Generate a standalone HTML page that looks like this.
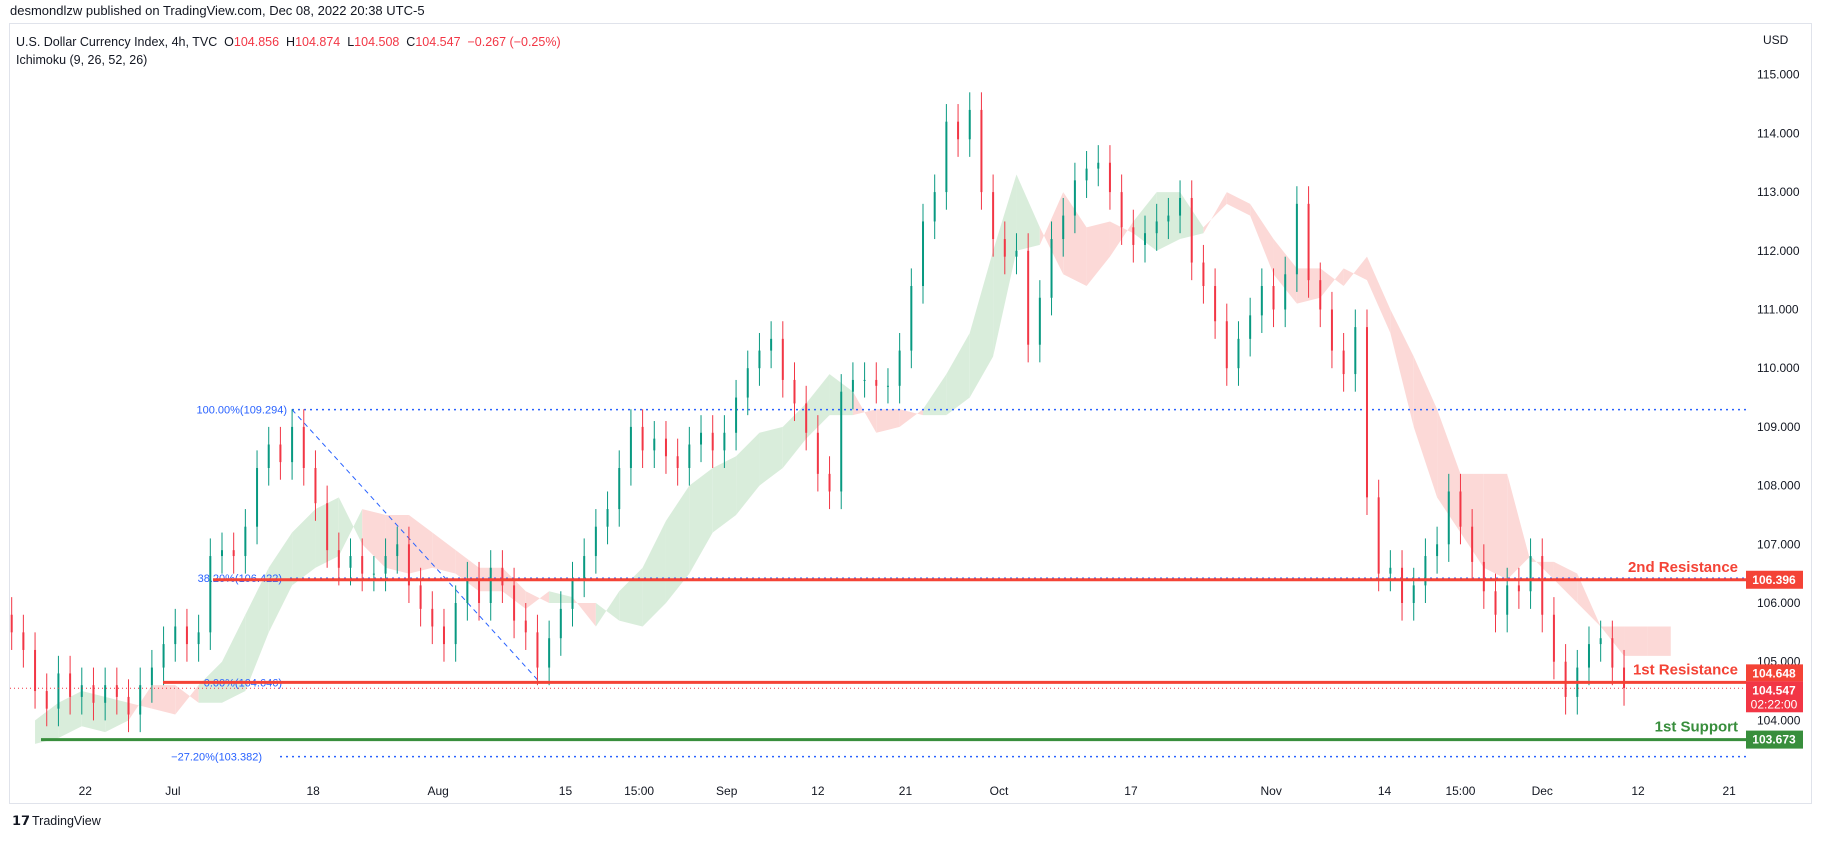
<!DOCTYPE html>
<html><head><meta charset="utf-8"><style>
body{margin:0;background:#fff;width:1832px;height:840px;overflow:hidden;font-family:"Liberation Sans",sans-serif}
svg text{font-family:"Liberation Sans",sans-serif;white-space:pre}
</style></head><body>
<svg id="chart" width="1832" height="840" xmlns="http://www.w3.org/2000/svg">
<text x="10" y="15" font-size="13" fill="#131722">desmondlzw published on TradingView.com, Dec 08, 2022 20:38 UTC-5</text>
<rect x="9.5" y="23.5" width="1802" height="780" fill="none" stroke="#e0e3eb"/>
<text x="16" y="46" font-size="12.5" fill="#131722" xml:space="preserve">U.S. Dollar Currency Index, 4h, TVC  O<tspan fill="#f23645">104.856</tspan>  H<tspan fill="#f23645">104.874</tspan>  L<tspan fill="#f23645">104.508</tspan>  C<tspan fill="#f23645">104.547</tspan>  <tspan fill="#f23645">−0.267 (−0.25%)</tspan></text>
<text x="16" y="64" font-size="12.5" fill="#131722">Ichimoku (9, 26, 52, 26)</text>
<text x="1763" y="44" font-size="12" fill="#131722">USD</text>
<g id="cloud"></g>
<g id="fib"></g>
<g id="candles"></g>
<g id="levels"></g>
<g id="yaxis"></g>
<g id="xaxis"></g>
<text x="12" y="825" font-size="13" font-weight="bold" fill="#131722">𝟭𝟳</text>
<text x="32" y="825" font-size="12.5" fill="#131722">TradingView</text>
</svg>
<script>
const closes=[105.5,105.2,104.5,104.2,104.8,104.4,104.6,104.3,104.6,104.4,
104.1,104.6,104.9,105.3,105.6,105.3,105.5,106.8,106.9,106.8,
107.3,108.3,108.7,108.4,109.0,108.3,107.7,106.9,106.6,106.8,
106.5,106.5,106.8,107.0,106.3,105.9,105.6,105.3,106.0,106.4,
106.0,106.6,106.3,105.7,105.5,104.9,105.4,105.9,106.4,106.8,
107.3,107.6,108.3,109.0,108.6,108.8,108.5,108.3,108.7,108.9,
108.6,108.9,109.5,110.0,110.3,110.5,109.8,109.4,108.9,108.2,
107.9,109.6,109.8,109.8,109.7,109.7,110.3,111.4,112.5,113.0,
114.2,113.9,114.4,113.0,112.2,111.9,112.0,110.4,111.2,112.2,
112.6,113.2,113.4,113.5,113.0,112.4,112.1,112.3,112.5,112.6,
112.9,111.8,111.4,110.8,110.0,110.5,110.9,111.4,111.0,111.6,
112.8,111.5,111.0,110.3,109.9,110.7,107.8,106.5,106.6,106.0,
106.3,106.8,107.0,107.9,107.3,106.7,106.2,105.8,106.3,106.2,
106.8,105.8,105.0,104.4,104.9,105.3,105.4,104.9,104.55];
const firstOpen=105.8;
const spanA=[104.0,104.3,104.5,104.4,104.3,104.2,104.1,104.6,105.0,105.8,106.6,107.2,107.6,107.8,107.0,106.6,106.5,106.6,106.5,106.2,106.2,105.9,106.2,106.1,105.6,106.2,106.6,107.4,108.0,108.3,108.5,108.9,109.0,109.4,109.9,109.6,108.9,109.0,109.3,109.9,110.6,112.0,113.3,112.4,111.6,111.4,111.9,112.5,113.0,113.0,112.4,112.8,112.6,111.6,111.1,111.2,111.7,111.5,110.6,109.0,107.8,107.2,106.6,106.4,106.8,106.4,106.0,105.6,105.1,105.1,105.1];
const spanB=[103.6,103.7,103.9,103.8,104.0,104.6,104.6,104.3,104.3,104.5,105.5,106.3,106.6,106.8,107.6,107.5,107.5,107.2,106.9,106.6,106.6,106.2,106.0,106.0,106.0,105.7,105.6,106.0,106.5,107.2,107.5,108.0,108.3,108.8,109.2,109.2,109.3,109.3,109.2,109.2,109.5,110.2,112.0,112.1,113.0,112.4,112.5,112.3,112.0,112.2,112.3,113.0,112.8,112.2,111.7,111.7,111.4,111.9,111.0,110.2,109.3,108.2,108.2,108.2,106.7,106.7,106.5,105.6,105.6,105.6,105.6];
const priceTicks=[104,105,106,107,108,109,110,111,112,113,114,115];
const dateLabels=["22","Jul","18","Aug","15","15:00","Sep","12","21","Oct","17","Nov","14","15:00","Dec","12","21"];
const datePos=[73,148,268,375,484,547,622,700,775,855,968,1088,1185,1250,1320,1402,1480];
const fibLevels=[109.294,106.422,104.646,103.382];
const fibNames=["100.00%(109.294)","38.20%(106.422)","0.00%(104.646)","−27.20%(103.382)"];
const levelPrices=[106.396,104.648,103.673];
const levelNames=["2nd Resistance","1st Resistance","1st Support"];
const lastPrice=104.547;

const NS="http://www.w3.org/2000/svg";
const S=1832/1568, PL=10, PR=1746;
const y=p=>603-(p-106)*58.7;
const xc=i=>S*(10+10*i);
const xk=j=>S*(30+20*j);
function mk(tag,attrs,parent){const e=document.createElementNS(NS,tag);for(const k in attrs)e.setAttribute(k,attrs[k]);parent.appendChild(e);return e;}
const G=id=>document.getElementById(id);

for(let j=0;j<spanA.length-1;j++){
  const g=(spanA[j]+spanA[j+1])>(spanB[j]+spanB[j+1]);
  const pts=`${xk(j)},${y(spanA[j])} ${xk(j+1)},${y(spanA[j+1])} ${xk(j+1)},${y(spanB[j+1])} ${xk(j)},${y(spanB[j])}`;
  const e=mk('polygon',{points:pts,fill:g?'#d9eddb':'#fcd9d7'},G('cloud'));
  
  
}
closes.forEach((c,i)=>{
  const o=i?closes[i-1]:firstOpen;
  const up=c>=o, col=up?'#089981':'#f23645';
  const x=xc(i);
  const w=mk('line',{x1:x,x2:x,y1:y(Math.max(o,c)+0.3),y2:y(Math.min(o,c)-0.3),stroke:col,'stroke-width':1},G('candles'));
  
  
  const b=mk('rect',{x:x-1,y:y(Math.max(o,c)),width:2,height:Math.max(1,Math.abs(y(o)-y(c))),fill:col},G('candles'));
  
  
});
const fibStart=[292,290,290,280], fibEnd=[287,282,282,262];
fibLevels.forEach((p,k)=>{
  const l=mk('line',{x1:fibStart[k],x2:PR,y1:y(p),y2:y(p),stroke:'#2962ff','stroke-width':1.5,'stroke-dasharray':'2 4'},G('fib'));
  
  
  const t=mk('text',{x:fibEnd[k],y:y(p)+4,'font-size':11,fill:'#2962ff','text-anchor':'end'},G('fib'));
  t.textContent=fibNames[k];
  
  
});
const d=mk('line',{x1:292,y1:y(fibLevels[0]),x2:540,y2:y(fibLevels[2]),stroke:'#2962ff','stroke-width':1,'stroke-dasharray':'5 4'},G('fib'));


const cp=mk('line',{x1:PL,x2:PR,y1:y(lastPrice),y2:y(lastPrice),stroke:'#f23645','stroke-width':1,'stroke-dasharray':'1 3'},G('levels'));


const lvStart=[213,163,41], lvCol=['#f44336','#f44336','#388e3c'];
levelPrices.forEach((p,k)=>{
  const l=mk('line',{x1:lvStart[k],x2:PR,y1:y(p),y2:y(p),stroke:lvCol[k],'stroke-width':3},G('levels'));
  
  
  const t=mk('text',{x:1738,y:y(p)-8,'font-size':15,'font-weight':'bold',fill:lvCol[k],'text-anchor':'end'},G('levels'));
  t.textContent=levelNames[k];
  
  
});
priceTicks.forEach(p=>{
  const t=mk('text',{x:1757,y:y(p)+4,'font-size':12,fill:'#131722'},G('yaxis'));
  t.textContent=p.toFixed(3);
  
  
});
function badge(top,h,txt,col,sub){
  const r=mk('rect',{x:1746,y:top,width:57,height:h,fill:col},G('yaxis'));
  
  
  const t=mk('text',{x:1774,y:top+13,'font-size':12,'font-weight':'bold',fill:'#fff','text-anchor':'middle'},G('yaxis'));
  t.textContent=txt;
  
  
  if(sub){const s=mk('text',{x:1774,y:top+27,'font-size':12,fill:'#fff','text-anchor':'middle'},G('yaxis'));s.textContent=sub;
  
  }
}
badge(y(levelPrices[0])-9,18,levelPrices[0].toFixed(3),'#f44336');
badge(y(levelPrices[1])-18,17,levelPrices[1].toFixed(3),'#f44336');
badge(y(lastPrice)-7,31,lastPrice.toFixed(3),'#f23645','02:22:00');
badge(y(levelPrices[2])-9,18,levelPrices[2].toFixed(3),'#388e3c');
dateLabels.forEach((s,k)=>{
  const t=mk('text',{x:datePos[k]*S,y:795,'font-size':12,fill:'#131722','text-anchor':'middle'},G('xaxis'));
  t.textContent=s;
  
  
});
</script>
</body></html>
